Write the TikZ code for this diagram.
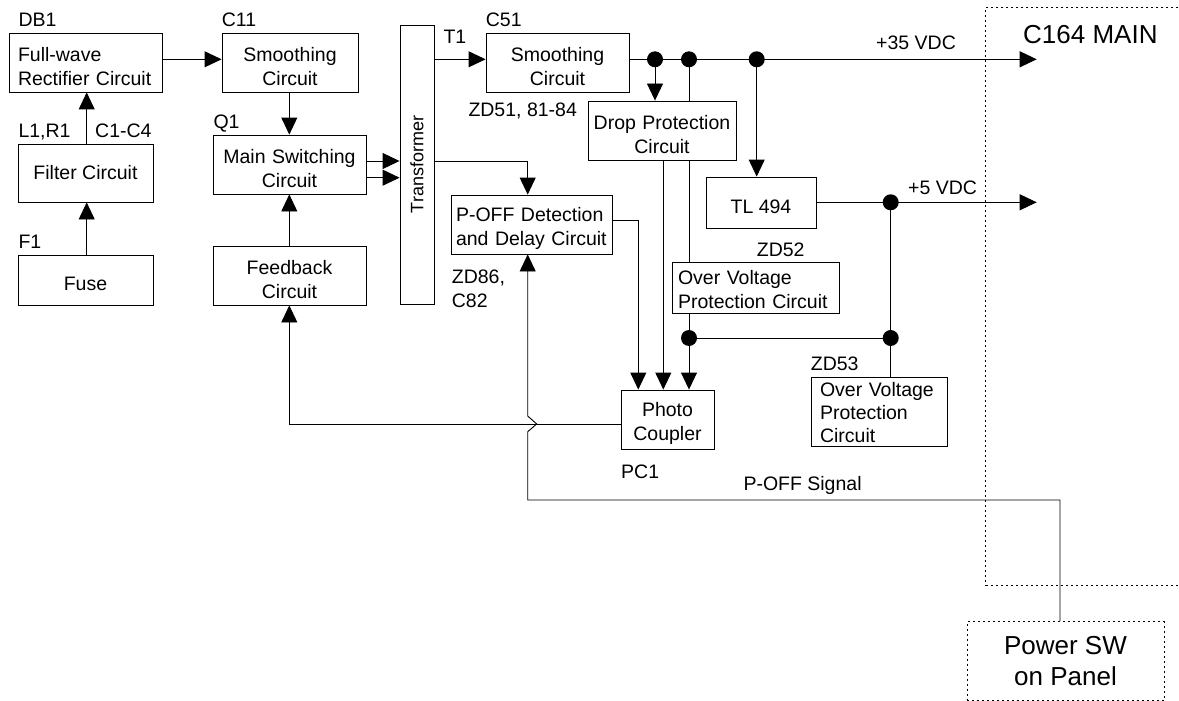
\documentclass[tikz,border=0pt]{standalone}
\usepackage{fontspec}
\setmainfont{Liberation Sans}
\usetikzlibrary{arrows.meta,backgrounds}
\tikzset{
  txt/.style={font=\fontsize{19.5}{24}\selectfont},
  rh/.store in=\boxrh, rh=22pt,
  bx/.style={draw, line width=0.9pt, fill=white, inner sep=0pt, txt, align=center},
  box/.style={bx, execute at begin node={\rule{0pt}{\boxrh}}},
  cbox/.style={box, text width=#1},
  lbox/.style={box, align=left, inner xsep=9pt, text width=#1},
  dbox/.style={draw, line width=0.9pt, dash pattern=on 2pt off 3pt, inner sep=0pt},
  lbl/.style={txt, anchor=base west, inner sep=0pt},
  ln/.style={line width=0.9pt},
  arr/.style={ln, -{Triangle[length=17pt,width=16pt]}},
  dot/.style={circle, fill, inner sep=0pt, minimum size=16pt},
}
\begin{document}
\hyphenpenalty=10000
\exhyphenpenalty=10000
\begin{tikzpicture}[x=1pt,y=-1pt]
\useasboundingbox (0,0) rectangle (1179,701);
% rows and columns
\coordinate (r35) at (0,59.3);
\coordinate (r5) at (0,202.3);
\coordinate (rov) at (0,338);
\coordinate (rfb) at (0,424);
\coordinate (rsig) at (0,500);
\coordinate (rqa) at (0,161);
\coordinate (rqb) at (0,177.7);
\coordinate (rpo) at (0,220);
\coordinate (cf) at (86.7,0);
\coordinate (cq) at (289.3,0);
\coordinate (cpo) at (527.7,0);
\coordinate (cpa) at (638.3,0);
\coordinate (cdr) at (663.3,0);
\coordinate (cov) at (689,0);
\coordinate (cd1) at (655,0);
\coordinate (ctl) at (756.7,0);
\coordinate (c5) at (890.7,0);
\coordinate (csw) at (1060,0);
\coordinate (cend) at (1036.7,0);
% outer dotted boxes
\node[dbox, anchor=north west, minimum width=210pt, minimum height=577.7pt] (main) at (985.3,7.3) {};
\node[lbl, font=\fontsize{26}{30}\selectfont] (mainlbl) at (1023,44) {C164 MAIN};
\node[dbox, fill=white, minimum width=197pt, minimum height=79pt, align=center, font=\fontsize{26}{31}\selectfont] (psw) at (1065.5,661) {Power SW\\on Panel};
% boxes
\node[lbox=135pt, minimum width=153pt, minimum height=59pt] (db1) at (85.5,62.5) {Full-wave\\Rectifier Circuit};
\node[cbox=134pt, minimum width=136pt, minimum height=59pt] (c11) at (290,62.5) {Smoothing\\Circuit};
\node[bx, minimum width=135pt, minimum height=58pt] (filt) at (85.5,173) {Filter Circuit};
\node[box, minimum width=135pt, minimum height=50pt] (fuse) at (85.5,280) {Fuse};
\node[cbox=151pt, minimum width=153pt, minimum height=59pt] (q1) at (289.5,164.5) {Main Switching\\Circuit};
\node[cbox=151pt, minimum width=153pt, minimum height=59pt] (fb) at (289.5,275.5) {Feedback\\Circuit};
\node[bx, minimum width=34pt, minimum height=279pt, font=\fontsize{18}{22}\selectfont] (tr) at (417,164.5) {\rotatebox{90}{Transformer}};
\node[cbox=141pt, minimum width=143pt, minimum height=59pt] (c51) at (557.5,62.5) {Smoothing\\Circuit};
\node[cbox=146pt, minimum width=148pt, minimum height=59pt] (drop) at (662,130.5) {Drop Protection\\Circuit};
\node[lbox=151pt, inner xsep=5pt, minimum width=161pt, minimum height=59pt] (poff) at (531.5,224.5) {P-OFF Detection\\and Delay Circuit};
\node[box, minimum width=110pt, minimum height=51pt] (tl) at (761,202.5) {TL 494};
\node[lbox=155pt, inner xsep=6pt, rh=19pt, minimum width=167pt, minimum height=51pt] (ovp1) at (755.5,287.5) {Over Voltage\\Protection Circuit};
\node[cbox=91pt, minimum width=93pt, minimum height=59pt] (pc) at (667.5,419.5) {Photo\\Coupler};
\node[lbox=118pt, rh=17pt, minimum width=136pt, minimum height=69pt, font=\fontsize{19.5}{23}\selectfont] (ovp2) at (879,411.5) {Over Voltage\\Protection\\Circuit};
% labels
\node[lbl] (l1) at (18.3,26.7) {DB1};
\node[lbl] (l2) at (221.7,26.7) {C11};
\node[lbl] (l3) at (18.3,137.3) {L1,R1};
\node[lbl] (l4) at (95,137.3) {C1-C4};
\node[lbl] (l5) at (18.3,248.3) {F1};
\node[lbl] (l6) at (213.3,128.3) {Q1};
\node[lbl] (l7) at (443.3,43.3) {T1};
\node[lbl] (l8) at (485.7,26.7) {C51};
\node[lbl] (l9) at (468.3,117) {ZD51, 81-84};
\node[lbl] (l10) at (451.7,283.3) {ZD86,};
\node[lbl] (l11) at (451.7,307.7) {C82};
\node[lbl] (l12) at (756.7,256) {ZD52};
\node[lbl] (l13) at (621,478) {PC1};
\node[lbl] (l14) at (743.3,490.7) {P-OFF Signal};
\node[lbl] (l15) at (810.7,370) {ZD53};
\node[lbl] (l16) at (876,50) {+35 VDC};
\node[lbl] (l17) at (908,194.3) {+5 VDC};
% dots
\node[dot] (d1) at (cd1 |- r35) {};
\node[dot] (d2) at (cov |- r35) {};
\node[dot] (d3) at (ctl |- r35) {};
\node[dot] (d4) at (c5 |- r5) {};
\node[dot] (d5) at (cov |- rov) {};
\node[dot] (d6) at (c5 |- rov) {};
\coordinate (e35) at (cend |- r35);
\coordinate (e5) at (cend |- r5);
% connectors
\begin{scope}[on background layer]
\draw[arr] (db1.east |- r35) -- (c11.west |- r35);
\draw[arr] (filt.north -| cf) -- (db1.south -| cf);
\draw[arr] (fuse.north -| cf) -- (filt.south -| cf);
\draw[arr] (c11.south -| cq) -- (q1.north -| cq);
\draw[arr] (fb.north -| cq) -- (q1.south -| cq);
\draw[arr] (q1.east |- rqa) -- (tr.west |- rqa);
\draw[arr] (q1.east |- rqb) -- (tr.west |- rqb);
\draw[arr] (tr.east |- r35) -- (c51.west |- r35);
\draw[arr] (c51.east |- r35) -- (e35);
\draw[arr] (d1.center) -- (drop.north -| d1);
\draw[ln] (d2.center) -- (ovp1.north -| d2);
\draw[arr] (d3.center) -- (tl.north -| d3);
\draw[arr] (tl.east |- r5) -- (e5);
\draw[ln] (d4.center) -- (d6.center) -- (ovp2.north -| d6);
\draw[ln] (d5.center) -- (d6.center);
\draw[ln] (ovp1.south -| d5) -- (d5.center);
\draw[arr] (d5.center) -- (pc.north -| d5);
\draw[arr] (drop.south -| cdr) -- (pc.north -| cdr);
\draw[arr] (poff.east |- rpo) -- (cpa |- rpo) -- (pc.north -| cpa);
\draw[arr] (tr.east |- rqa) -- (cpo |- rqa) -- (poff.north -| cpo);
\draw[arr] (pc.west |- rfb) -- (cq |- rfb) -- (fb.south -| cq);
\draw[arr] (psw.north -| csw) -- (csw |- rsig) -- (cpo |- rsig) -- ([yshift=-7.7pt]cpo |- rfb) -- ([xshift=9pt]cpo |- rfb) -- ([yshift=8pt]cpo |- rfb) -- (poff.south -| cpo);
\end{scope}
\end{tikzpicture}
\end{document}
